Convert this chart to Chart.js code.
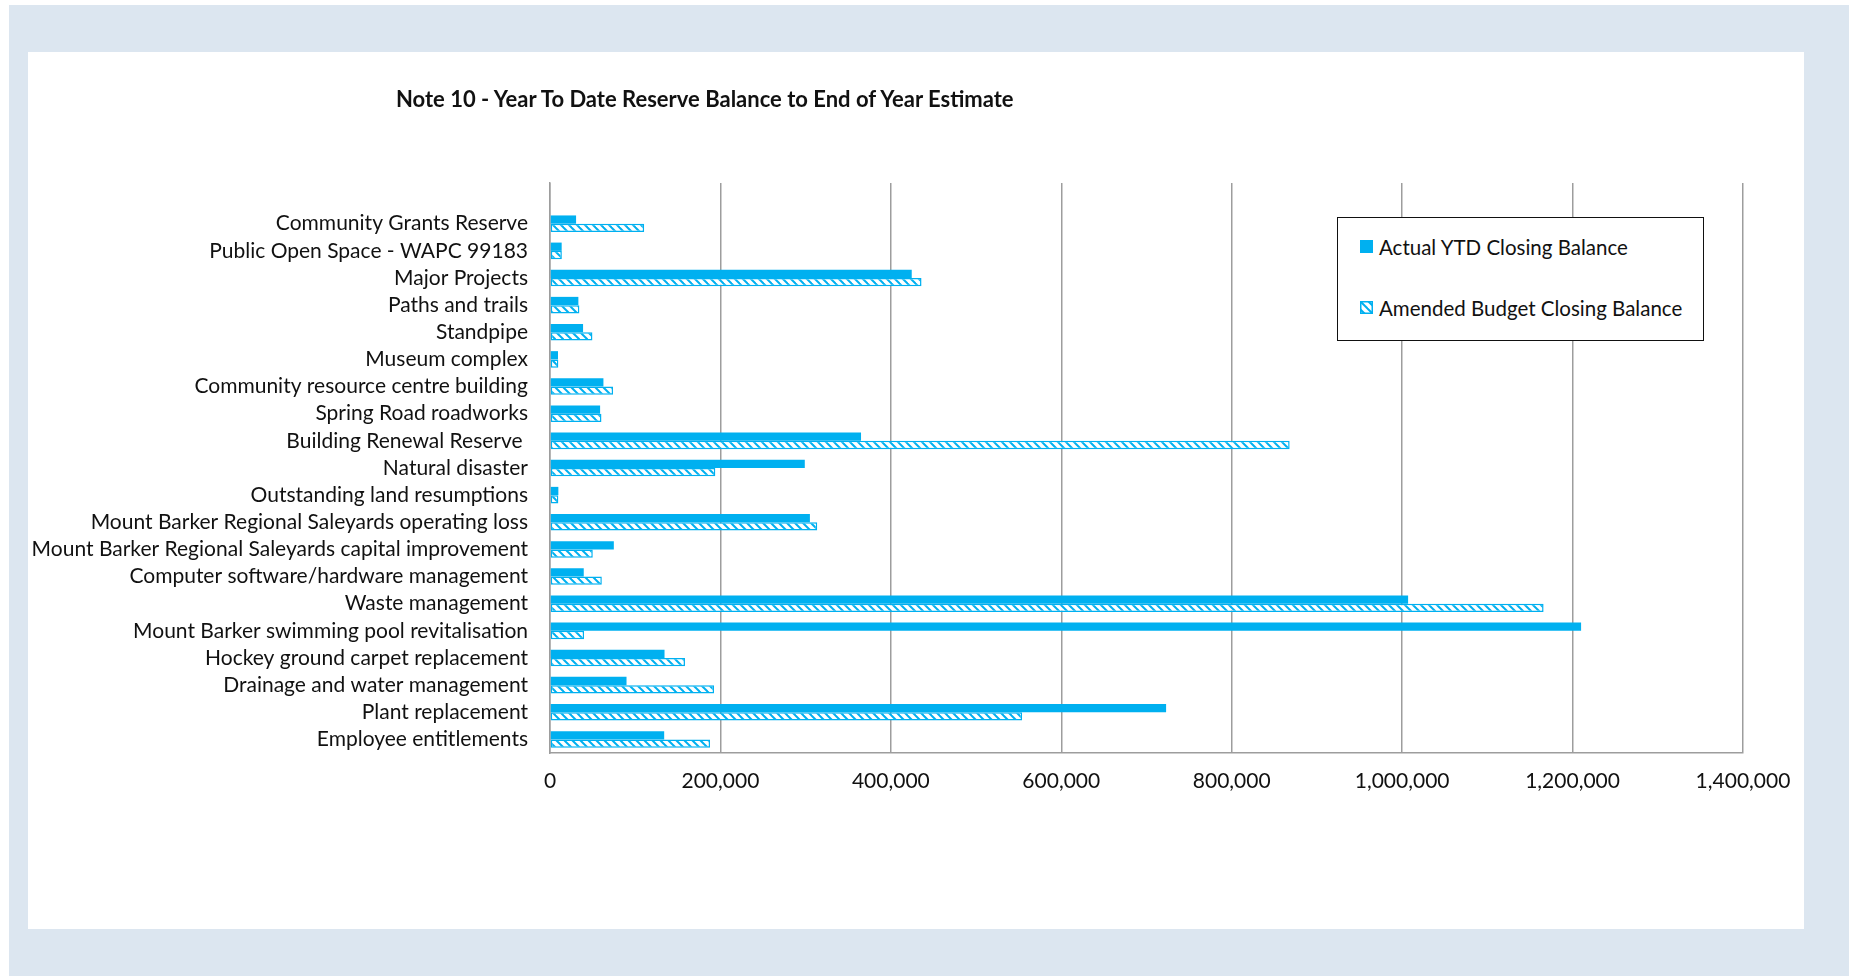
<!DOCTYPE html>
<html>
<head>
<meta charset="utf-8">
<script src="https://cdn.jsdelivr.net/npm/chart.js@4.4.1/dist/chart.umd.min.js"></script>
<style>
  body { margin: 0; background: #fff; font-family: Lato, sans-serif; }
  #frame { position: absolute; left: 9px; top: 5px; width: 1840px; height: 971px; background: #dce6f0; }
  #panel { position: absolute; left: 28px; top: 52px; width: 1776px; height: 877px; background: #fff; }
  #title { position: absolute; left: 368px; top: 34px; font: bold 22px Lato, sans-serif; line-height: 26px; color: #111; white-space: nowrap; }
  #legend { position: absolute; left: 1309px; top: 165px; width: 365px; height: 122px; border: 1.5px solid #111; background: #fff; }
  .item { position: absolute; left: 22px; height: 24px; font: 20.5px Lato, sans-serif; line-height: 24px; color: #111; white-space: nowrap; }
  .item canvas { position: absolute; left: 0; top: 5px; }
  .item span { position: absolute; left: 19px; top: 0; }
</style>
</head>
<body>
<div id="frame"></div>
<div id="panel">
  <canvas id="reserve-chart"></canvas>
  <div id="title">Note 10 - Year To Date Reserve Balance to End of Year Estimate</div>
  <div id="legend"></div>
</div>
<script>
const categories = [
  "Community Grants Reserve",
  "Public Open Space - WAPC 99183",
  "Major Projects",
  "Paths and trails",
  "Standpipe",
  "Museum complex",
  "Community resource centre building",
  "Spring Road roadworks",
  "Building Renewal Reserve ",
  "Natural disaster",
  "Outstanding land resumptions",
  "Mount Barker Regional Saleyards operating loss",
  "Mount Barker Regional Saleyards capital improvement",
  "Computer software/hardware management",
  "Waste management",
  "Mount Barker swimming pool revitalisation",
  "Hockey ground carpet replacement",
  "Drainage and water management",
  "Plant replacement",
  "Employee entitlements",
];

const actualYtd = [
  30600, 13700, 424500, 33300, 38800, 9400, 62700, 58800, 365000, 299000,
  9800, 305000, 74900, 39600, 1007000, 1210000, 134400, 89800, 723000, 134000,
];

const amendedBudget = [
  110500, 13900, 436000, 34500, 49800, 9800, 74000, 60400, 868000, 194000,
  9800, 313600, 50200, 60800, 1166000, 40000, 158400, 192500, 554000, 187800,
];

const seriesNames = ["Actual YTD Closing Balance", "Amended Budget Closing Balance"];
const xTicks = [0, 200000, 400000, 600000, 800000, 1000000, 1200000, 1400000];

const blue = "#00b0f0";
const gridGrey = "#9d9d9d";

function makeHatch(color) {
  const c = document.createElement("canvas");
  c.width = 8;
  c.height = 8;
  const g = c.getContext("2d");
  g.fillStyle = "#fff";
  g.fillRect(0, 0, 8, 8);
  g.strokeStyle = color;
  g.lineWidth = 2;
  [-8, 0, 8].forEach((o) => {
    g.beginPath();
    g.moveTo(o - 1, -1);
    g.lineTo(o + 9, 9);
    g.stroke();
  });
  return g.createPattern(c, "repeat");
}

const hatch = makeHatch(blue);

// blank row on top so the grid runs above the first bar like in excel
const rowLabels = [""].concat(categories);
const pad = (arr) => [null].concat(arr);

Chart.defaults.font.family = "Lato";
Chart.defaults.font.size = 21;
Chart.defaults.color = "#111";

const ctx = document.getElementById("reserve-chart");

let reserveChart = new Chart(ctx, {
  type: "bar",
  data: {
    labels: rowLabels,
    datasets: [
      {
        label: seriesNames[0],
        data: pad(actualYtd),
        backgroundColor: blue,
        borderWidth: 0,
      },
      {
        label: seriesNames[1],
        data: pad(amendedBudget),
        backgroundColor: hatch,
        borderColor: blue,
        borderWidth: 1.5,
        borderSkipped: false,
      },
    ],
  },
  options: {
    indexAxis: "y",
    responsive: true,
    maintainAspectRatio: false,
    animation: false,
    categoryPercentage: 0.61,
    barPercentage: 1.0,
    layout: {
      padding: { left: 0, right: 61, top: 131, bottom: 116 },
    },
    plugins: {
      legend: { display: false },
      title: { display: false },
      tooltip: { enabled: false },
    },
    scales: {
      x: {
        min: 0,
        max: 1400000,
        afterBuildTicks: (scale) => {
          scale.ticks = xTicks.map((v) => ({ value: v }));
        },
        afterFit: (scale) => {
          scale.height = 60;
          // last label may hang over the edge, there is room for it
          scale.paddingLeft = 0;
          scale.paddingRight = 0;
        },
        ticks: {
          padding: 16,
          callback: (v) => Number(v).toLocaleString("en-US"),
        },
        grid: {
          color: gridGrey,
          lineWidth: 1.5,
          drawTicks: false,
        },
        border: { display: true, color: gridGrey, width: 1.5 },
      },
      y: {
        afterFit: (scale) => {
          scale.width = 522;
        },
        ticks: {
          padding: 22,
          autoSkip: false,
        },
        grid: { display: false, drawTicks: false },
        border: { display: true, color: gridGrey, width: 1.5 },
      },
    },
  },
});

// legend box, same look as the excel one
const legendBox = document.getElementById("legend");
const legendTops = [17, 78];
seriesNames.forEach((name, i) => {
  const item = document.createElement("div");
  item.className = "item";
  item.style.top = legendTops[i] + "px";
  const sw = document.createElement("canvas");
  sw.width = 13;
  sw.height = 13;
  const g = sw.getContext("2d");
  if (i === 0) {
    g.fillStyle = blue;
    g.fillRect(0, 0, 13, 13);
  } else {
    g.fillStyle = makeHatch(blue);
    g.fillRect(0, 0, 13, 13);
    g.strokeStyle = blue;
    g.lineWidth = 1.5;
    g.strokeRect(0.75, 0.75, 11.5, 11.5);
  }
  const label = document.createElement("span");
  label.textContent = name;
  item.appendChild(sw);
  item.appendChild(label);
  legendBox.appendChild(item);
});
</script>
</body>
</html>
